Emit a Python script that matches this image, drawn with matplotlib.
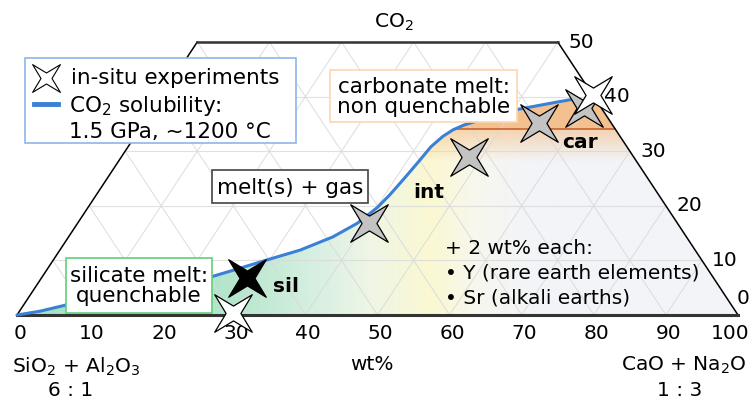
import numpy as np
import matplotlib
matplotlib.use("Agg")
import matplotlib.pyplot as plt
from matplotlib.path import Path
from matplotlib.patches import Polygon, Rectangle
from matplotlib.colors import LinearSegmentedColormap, to_rgb

W, H = 754, 399

# CaO+Na2O wt% (b) and CO2 wt% (c) along the CO2 solubility curve
curve_b = [0.0, 2.85, 5.8, 23.65, 25.9, 29.65, 33.35, 36.65, 38.8, 40.1, 40.7,
           41.2, 41.7, 42.0, 42.7, 43.5, 44.6, 46.35, 50.05, 55.4, 57.7]
curve_c = [0.0, 0.7, 1.8, 7.1, 8.2, 10.1, 11.9, 14.3, 16.8, 19.6, 22.0,
           25.0, 28.4, 30.8, 32.7, 33.9, 34.8, 35.7, 37.5, 39.0, 39.6]

# experiments (b, c)
gray_b = [40.4, 48.2, 54.9, 59.6]
gray_c = [16.8, 28.9, 35.1, 38.0]
black_b = [28.5]
black_c = [6.8]
insitu_b = [29.8, 59.8]
insitu_c = [0.4, 40.3]

carb_line_c = 34.0

ticks = [0, 10, 20, 30, 40, 50, 60, 70, 80, 90, 100]
co2_ticks = [0, 10, 20, 30, 40, 50]


def tern(b, c):
    b = np.asarray(b, float)
    c = np.asarray(c, float)
    return b + c / 2, c


def P(x, y):
    return x / W, 1 - y / H


# 4-pointed star marker
ang_out = np.deg2rad([45, 135, 225, 315])
ang_in = np.deg2rad([90, 180, 270, 360])
verts = []
for ao, ai in zip(ang_out, ang_in):
    verts.append((np.cos(ao), np.sin(ao)))
    verts.append((0.28 * np.cos(ai), 0.28 * np.sin(ai)))
verts.append(verts[0])
star = Path(verts, [Path.MOVETO] + [Path.LINETO] * 7 + [Path.CLOSEPOLY])

fig = plt.figure(figsize=(W / 100, H / 100), dpi=100)
ax = fig.add_axes([0, 0, 1, 1])
ax.axis("off")
sx, sy = 7.21, 5.46
ax.set_xlim(-17 / sx, (W - 17) / sx)
ax.set_ylim(-(H - 315) / sy, 315 / sy)

# gradient fill under the curve
cx, cy = tern(curve_b, curve_c)
poly = list(zip(cx, cy)) + [(100 - cy[-1] / 2, cy[-1]), (100, 0)]
clip = Polygon(poly, closed=True, transform=ax.transData, fc="none", ec="none")
ax.add_patch(clip)

xs = np.linspace(0, 100, 400)
ys = np.linspace(0, 50, 200)
stops = [(0.0, "#a6e0c2"), (0.30, "#b6e6cd"), (0.42, "#d9f0e2"), (0.49, "#eff6e6"),
         (0.575, "#fbf8d2"), (0.64, "#f7f7ef"), (0.72, "#f2f4f8"), (1.0, "#f2f4f8")]
cmap = LinearSegmentedColormap.from_list("g", stops)
base = cmap(xs / 100)[None, :, :3].repeat(len(ys), axis=0)
orange = np.array(to_rgb("#f4b373"))
a = np.clip((ys - 28) / 6, 0, 1) * 0.5
a = np.where(ys >= carb_line_c, 0.78, a)[:, None, None]
img = base * (1 - a) + orange * a
im = ax.imshow(img, extent=[0, 100, 0, 50], origin="lower", aspect="auto",
               interpolation="bilinear", zorder=1)
im.set_clip_path(clip)

# triangular grid
outline = Polygon([(0, 0), (25, 50), (75, 50), (100, 0)], closed=True,
                  transform=ax.transData, fc="none", ec="none")
ax.add_patch(outline)
gkw = dict(color="#d9d9d9", lw=0.8, zorder=2, alpha=0.8)
for v in range(10, 100, 10):
    top = min(50, 100 - v)
    for line in (tern([v, v], [0, top]), tern([100 - v, 100 - v - top], [0, top])):
        ln, = ax.plot(*line, **gkw)
        ln.set_clip_path(outline)
for c in range(10, 50, 10):
    ax.plot([c / 2, 100 - c / 2], [c, c], **gkw)

# carbonate boundary
idx = np.argmax(cy >= carb_line_c)
x_start = np.interp(carb_line_c, cy[idx - 1:idx + 1], cx[idx - 1:idx + 1])
ax.plot([x_start, 100 - carb_line_c / 2], [carb_line_c, carb_line_c],
        color="#c8642c", lw=1.2, zorder=3)

# outline
ax.plot([0, 25], [0, 50], color="black", lw=1.1, zorder=4)
ax.plot([75, 100], [50, 0], color="black", lw=1.1, zorder=4)
ax.plot([25, 75], [50, 50], color="#333333", lw=1.8, zorder=4)
ax.plot([0, 100], [0, 0], color="#333333", lw=2.2, zorder=4)

# solubility curve
ax.plot(cx, cy, color="#3a80d6", lw=2.2, zorder=5, solid_capstyle="round",
        solid_joinstyle="round")

# experiments
mkw = dict(marker=star, ms=27, ls="none", mec="black", mew=0.9, zorder=6)
ax.plot(*tern(gray_b, gray_c), mfc="#c3c3c3", **mkw)
ax.plot(*tern(black_b, black_c), mfc="black", **mkw)
ax.plot(*tern(insitu_b, insitu_c), mfc="white", **mkw)

fs = 15.5
fs_small = 14.5
# tick labels
for t in ticks:
    xt = t + 0.4 if t < 100 else 98.9
    ax.text(xt, -3.4, str(t), ha="center", va="center", fontsize=fs_small)
for t in co2_ticks:
    xe, ye = 100 - t / 2, t
    if t == 0:
        ax.text(xe + 0.7, 3.1, "0", ha="center", va="center", fontsize=fs_small)
    else:
        ax.text(xe + 3.2, ye, str(t), ha="center", va="center", fontsize=fs_small)

tkw = dict(transform=fig.transFigure, fontsize=fs_small, ha="center", va="center")
fig.text(*P(394, 22), "CO$_2$", **tkw)
fig.text(*P(76, 367), "SiO$_2$ + Al$_2$O$_3$", **tkw)
fig.text(*P(71, 390), "6 : 1", **tkw)
fig.text(*P(372, 365), "wt%", **tkw)
fig.text(*P(684, 365), "CaO + Na$_2$O", **tkw)
fig.text(*P(680, 390), "1 : 3", **tkw)

# field labels
fig.text(*P(286, 287), "sil", fontweight="bold", **tkw)
fig.text(*P(429, 193), "int", fontweight="bold", **tkw)
fig.text(*P(580, 142), "car", fontweight="bold", **tkw)

nkw = dict(transform=fig.transFigure, fontsize=fs_small, ha="left", va="center")
fig.text(*P(445, 248), "+ 2 wt% each:", **nkw)
fig.text(*P(445, 273), "\u2022 Y (rare earth elements)", **nkw)
fig.text(*P(445, 298), "\u2022 Sr (alkali earths)", **nkw)


def box(x0, y0, x1, y1, ec, lines):
    fig.patches.append(Rectangle(P(x0, y1), (x1 - x0) / W, (y1 - y0) / H,
                                 transform=fig.transFigure, fc="white", ec=ec,
                                 lw=1.2, zorder=7))
    fig.text(*P((x0 + x1) / 2, (y0 + y1) / 2 + 1), lines, ha="center", va="center",
             fontsize=fs, transform=fig.transFigure, zorder=8, linespacing=1.0)


box(330, 70, 517, 122, "#fbd8b0", "carbonate melt:\nnon quenchable")
box(212, 170, 368, 203, "#444444", "melt(s) + gas")
box(66, 258, 212, 313, "#5fd07a", "silicate melt:\nquenchable")

# legend
lkw = dict(transform=fig.transFigure, fontsize=fs, ha="left", va="center")
fig.patches.append(Rectangle(P(25, 143), 271 / W, 85 / H, transform=fig.transFigure,
                             fc="white", ec="#8fb5ea", lw=1.2, zorder=7))
fig.lines.append(plt.Line2D(*zip(P(46, 78)), marker=star, ms=20, mfc="white",
                            mec="black", mew=0.8, ls="none",
                            transform=fig.transFigure, zorder=8))
fig.lines.append(plt.Line2D(*zip(P(34, 104), P(58, 104)), color="#3a80d6", lw=3.5,
                            transform=fig.transFigure, zorder=8))
fig.text(*P(71, 78), "in-situ experiments", zorder=8, **lkw)
fig.text(*P(69, 106), "CO$_2$ solubility:", zorder=8, **lkw)
fig.text(*P(69, 132), "1.5 GPa, ~1200 \u00b0C", zorder=8, **lkw)

fig.savefig("out.png", dpi=100)
